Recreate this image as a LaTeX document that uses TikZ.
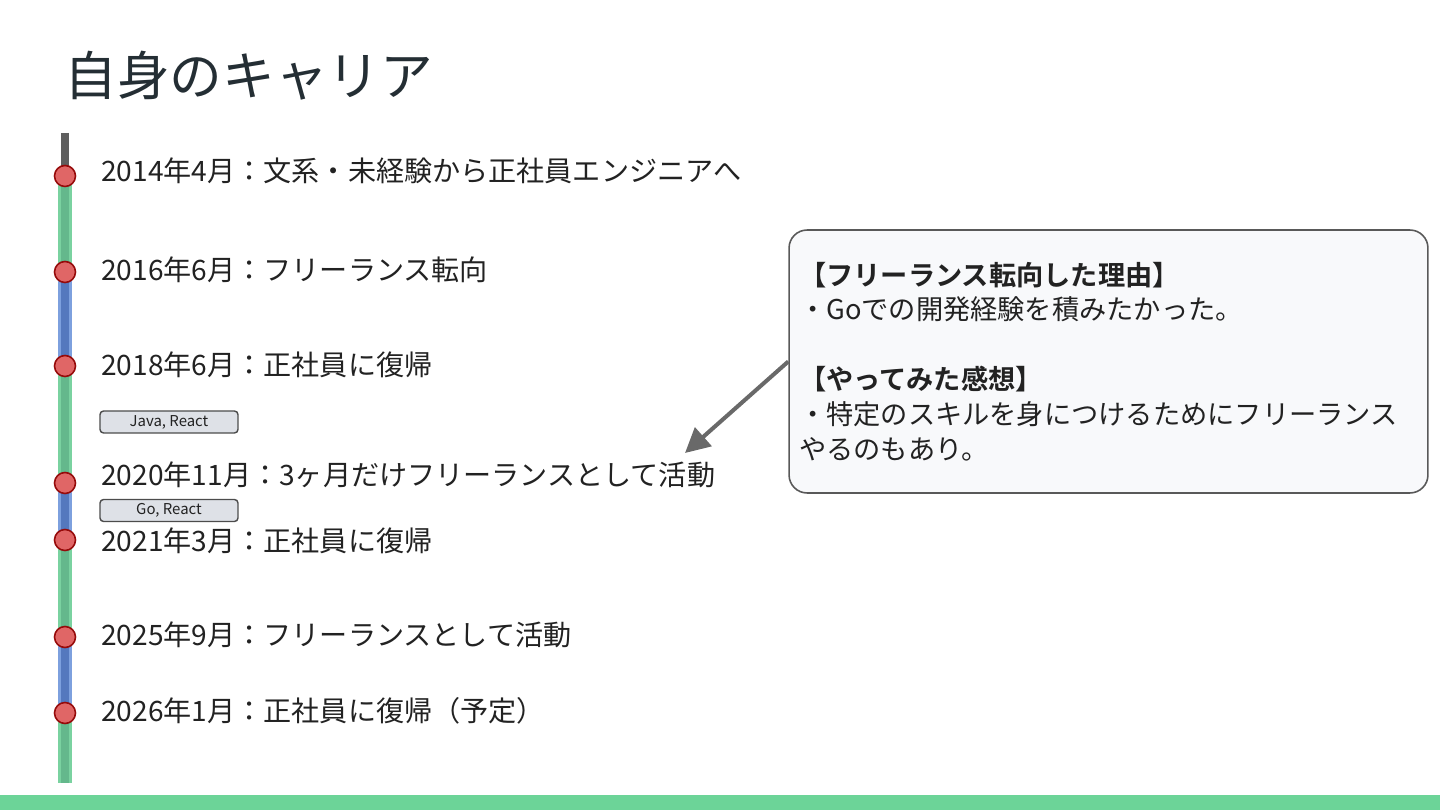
\documentclass[tikz,border=0pt]{standalone}
\usepackage{fontspec}
\setmainfont{Noto Sans CJK JP}[BoldFont={Noto Sans CJK JP Bold}]
\usetikzlibrary{arrows.meta}
\definecolor{inkgray}{RGB}{34,34,34}
\definecolor{titlegray}{RGB}{36,46,52}
\definecolor{greenlight}{RGB}{122,210,160}
\definecolor{greendark}{RGB}{100,184,140}
\definecolor{bluelight}{RGB}{125,160,222}
\definecolor{bluedark}{RGB}{84,120,190}
\definecolor{topgray}{RGB}{95,95,95}
\definecolor{dotred}{RGB}{224,102,102}
\definecolor{dotedge}{RGB}{150,10,10}
\definecolor{tagfill}{RGB}{222,225,231}
\definecolor{memofill}{RGB}{248,249,251}
\definecolor{arrowgray}{RGB}{105,105,105}
\definecolor{bargreen}{RGB}{108,212,152}

\begin{document}
\begin{tikzpicture}[x=0.02cm, y=-0.02cm,
	every node/.style={font=\fontsize{16}{19}\selectfont, text=inkgray},
	event/.style={anchor=west, inner sep=0pt},
	dot/.style={circle, fill=dotred, draw=dotedge, line width=0.9pt, minimum size=0.42cm, inner sep=0pt},
	tag/.style={draw=black!70, fill=tagfill, rounded corners=2pt, line width=0.8pt, minimum width=2.76cm, minimum height=0.44cm, inner sep=0pt, font=\fontsize{8.5}{10}\selectfont},
	memo/.style={draw=black!65, fill=memofill, rounded corners=0.36cm, line width=0.9pt, text width=12.38cm, inner xsep=0.2cm, minimum height=5.26cm, align=left, font=\fontsize{15.5}{19.85}\selectfont}]
	\useasboundingbox (0,0) rectangle (1440,810);
	\fill[bargreen] (0,795) rectangle (1440,810);
	\node[event, font=\fontsize{30}{36}\selectfont, text=titlegray] (title) at (64,76) {自身のキャリア};
	% timeline
	\coordinate (top) at (65,133);
	\coordinate (bot) at (65,783);
	\foreach \i/\y in {1/176, 2/272, 3/366, 4/483, 5/540, 6/637, 7/713} {
		\coordinate (p\i) at (65,\y);
	}
	\draw[topgray, line width=4pt] (top) -- (p1);
	\foreach \a/\b/\col in {1/2/green, 2/3/blue, 3/4/green, 4/5/blue, 5/6/green, 6/7/blue} {
		\draw[\col light, line width=8.5pt] (p\a) -- (p\b);
		\draw[\col dark, line width=4pt] (p\a) -- (p\b);
	}
	\draw[greenlight, line width=8.5pt] (p7) -- (bot);
	\draw[greendark, line width=4pt] (p7) -- (bot);
	\foreach \i in {1,...,7} {
		\node[dot] (d\i) at (p\i) {};
	}
	\node[event] (e1) at (101,171) {2014年4月：文系・未経験から正社員エンジニアへ};
	\node[event] (e2) at (101,270) {2016年6月：フリーランス転向};
	\node[event] (e3) at (101,365) {2018年6月：正社員に復帰};
	\node[event] (e4) at (101,475) {2020年11月：3ヶ月だけフリーランスとして活動};
	\node[event] (e5) at (101,541) {2021年3月：正社員に復帰};
	\node[event] (e6) at (101,635) {2025年9月：フリーランスとして活動};
	\node[event] (e7) at (101,711) {2026年1月：正社員に復帰（予定）};
	\node[tag] (java) at (169,422) {Java, React};
	\node[tag] (go) at (169,510.5) {Go, React};
	% callout
	\node[memo] (memo) at (1108.5,361.5) {\textbf{【フリーランス転向した理由】}\\
		・Goでの開発経験を積みたかった。\\[\baselineskip]
		\textbf{【やってみた感想】}\\
		・特定のスキルを身につけるためにフリーランス\\
		やるのもあり。};
	\coordinate (aim) at (685,453);
	\draw[arrowgray, line width=2.3pt, -{Triangle[length=14pt, width=14pt]}] (memo.west) -- (aim);
\end{tikzpicture}
\end{document}
